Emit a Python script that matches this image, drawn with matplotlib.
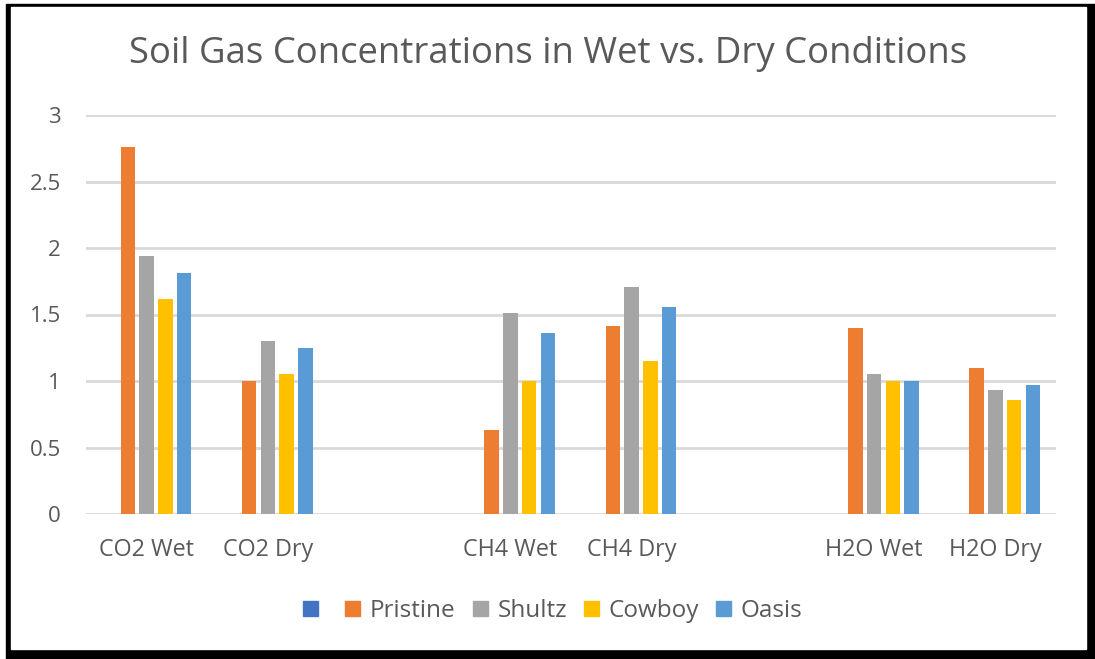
import numpy as np
import matplotlib.pyplot as plt
from matplotlib.patches import Rectangle, Patch

categories = ["CO2 Wet", "CO2 Dry", "", "CH4 Wet", "CH4 Dry", "", "H2O Wet", "H2O Dry"]
series_names = ["", "Pristine", "Shultz", "Cowboy", "Oasis"]
nan = np.nan
blank = [nan] * 8
pristine = [2.76, 1.00, nan, 0.63, 1.41, nan, 1.40, 1.10]
shultz = [1.94, 1.30, nan, 1.51, 1.71, nan, 1.05, 0.93]
cowboy = [1.62, 1.05, nan, 1.00, 1.15, nan, 1.00, 0.86]
oasis = [1.81, 1.25, nan, 1.36, 1.56, nan, 1.00, 0.97]
colors = ["#4472C4", "#ED7D31", "#A5A5A5", "#FFC000", "#5B9BD5"]

W, H = 1095, 659
fig = plt.figure(figsize=(W / 100, H / 100), dpi=100)
plt.rcParams['font.family'] = ['Open Sans', 'DejaVu Sans']
txt = "#595959"

# black frame around the picture (thicker on right / bottom)
fig.patches.append(Rectangle((6 / W, 0), 1 - 6 / W, 1 - 4 / H, transform=fig.transFigure,
                             color="black", zorder=-2))
fig.patches.append(Rectangle((11 / W, 10 / H), (1086 - 11) / W, (649 - 7) / H,
                             transform=fig.transFigure, color="white", zorder=-1))

ax = fig.add_axes([86 / W, 145 / H, (1056 - 86) / W, (514 - 115) / H])
ax.set_facecolor("none")

x = np.arange(len(categories))
slot = 0.1545
bw = 0.12
data = [blank, pristine, shultz, cowboy, oasis]
for i, vals in enumerate(data):
    ax.bar(x + (i - 2) * slot, vals, width=bw, color=colors[i], zorder=3)

ax.set_xlim(-0.5, len(categories) - 0.5)
ax.set_ylim(0, 3)
ax.set_yticks(np.arange(0, 3.01, 0.5))
ax.set_yticklabels(["0", "0.5", "1", "1.5", "2", "2.5", "3"])
ax.set_xticks(x)
ax.set_xticklabels(categories)
ax.yaxis.grid(True, color="#D9D9D9", linewidth=2, zorder=0)
ax.set_axisbelow(True)
for s in ax.spines.values():
    s.set_visible(False)
ax.tick_params(axis="both", length=0, colors=txt)
ax.tick_params(axis="y", pad=18, labelsize=16)
ax.tick_params(axis="x", pad=17, labelsize=16.8)

fig.text(548 / W, 1 - 54 / H, "Soil Gas Concentrations in Wet vs. Dry Conditions",
         ha="center", va="center", fontsize=26.3, color=txt)

handles = [Patch(color=c) for c in colors]
fig.legend(handles, series_names, loc="center", bbox_to_anchor=(553 / W, 1 - 611 / H),
           ncol=5, frameon=False, fontsize=17.5, handlelength=0.62, handleheight=0.62,
           handletextpad=0.4, columnspacing=0.7, labelcolor=txt)

fig.savefig("out.png", dpi=100)
